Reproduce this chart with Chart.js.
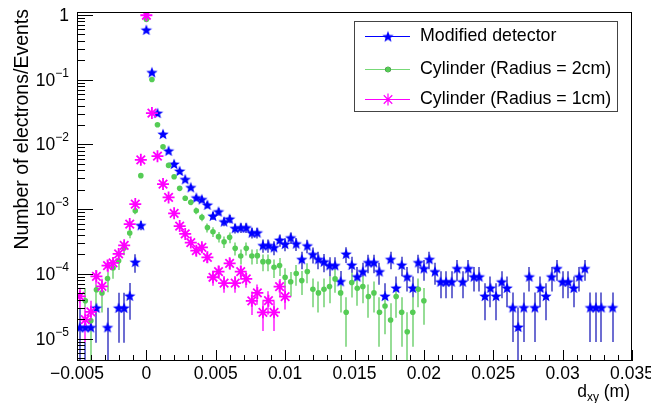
<!DOCTYPE html>
<html>
<head>
<meta charset="utf-8">
<script src="https://cdn.jsdelivr.net/npm/chart.js@4.4.0/dist/chart.umd.min.js"></script>
<style>
  html, body { margin: 0; padding: 0; background: #fff; }
  canvas { display: block; }
</style>
</head>
<body>
<canvas id="dxyChart" width="651" height="403"></canvas>
<script>
// histogram binning: 100 bins between -0.005 and 0.035 m
const binLow = -0.005;
const binHigh = 0.035;
const nBins = 100;
const binCenters = Array.from({length: nBins}, (_, i) => binLow + (i + 0.5) * (binHigh - binLow) / nBins);

const seriesLabels = ['Modified detector', 'Cylinder (Radius = 2cm)', 'Cylinder (Radius = 1cm)'];

// weight of one entry, gives the sqrt(N) error bars
const entryWeights = [1.52e-5, 1.28e-5, 6e-6];

const modifiedDetector = [
    1.5e-5, 1.5e-5, 1.5e-5, 3.0e-5, null, 1.5e-5, null, 3.0e-5, 3.0e-5, 4.6e-5,
    1.53e-4, 5.65e-4, 0.59, 0.130, 0.0306, 0.0145, 0.0080, 5.0e-3, 3.9e-3, 2.9e-3,
    2.18e-3, 1.51e-3, 1.42e-3, 1.17e-3, 7.9e-4, 9.2e-4, 6.45e-4, 7.1e-4, 5.1e-4, 5.2e-4,
    5.2e-4, 4.35e-4, 4.35e-4, 2.77e-4, 2.77e-4, 2.58e-4, 3.35e-4, 2.9e-4, 3.64e-4, 2.94e-4,
    1.69e-4, 2.74e-4, 2.01e-4, 1.69e-4, 1.55e-4, 1.36e-4, 1.36e-4, 7.7e-5, 2.04e-4, 1.38e-4,
    9.1e-5, 1.09e-4, 1.51e-4, 1.51e-4, 1.09e-4, 4.57e-5, 1.69e-4, 6.1e-5, 1.38e-4, 9.1e-5,
    6.1e-5, 1.51e-4, 1.22e-4, 1.69e-4, 1.09e-4, 7.6e-5, 7.6e-5, 7.6e-5, 1.22e-4, 7.6e-5,
    1.22e-4, 9.1e-5, 9.1e-5, 4.57e-5, 6.1e-5, 4.57e-5, 7.6e-5, 6.1e-5, 3.04e-5, 1.52e-5,
    3.04e-5, 9.1e-5, 3.04e-5, 6.1e-5, 4.57e-5, 9.1e-5, 1.22e-4, 7.6e-5, 7.6e-5, 6.1e-5,
    9.1e-5, 1.22e-4, 3.04e-5, 3.04e-5, 3.04e-5, null, 3.04e-5, null, null, null
];

const cylinder2cm = [
    null, 3.87e-5, 1.9e-5, 5.7e-5, 5.1e-5, 8.5e-5, 1.24e-4, 1.6e-4, 2.52e-4, 4.3e-4,
    9.5e-4, 3.3e-3, 0.85, 0.101, 0.0202, 9.2e-3, 4.75e-3, 3.18e-3, 2.1e-3, 1.48e-3,
    1.28e-3, 9.5e-4, 7.5e-4, 5.2e-4, 4.5e-4, 3.77e-4, 3.15e-4, 3.68e-4, 2.49e-4, 1.9e-4,
    2.49e-4, 1.9e-4, 1.92e-4, 1.55e-4, 1.55e-4, 1.27e-4, 1.35e-4, 8.9e-5, 7.6e-5, 1.02e-4,
    7.9e-5, 1.09e-4, 5.8e-5, 5.1e-5, 5.8e-5, 6.4e-5, 8.4e-5, 5.1e-5, 2.56e-5, 7.4e-5,
    6.0e-5, 6.4e-5, 4.5e-5, 5.1e-5, 2.56e-5, 3.2e-5, 1.95e-5, 4.5e-5, 2.56e-5, 1.28e-5,
    2.56e-5, 5.8e-5, 3.87e-5, null, null, null, null, null, null, null,
    null, null, null, null, null, null, null, null, null, null,
    null, null, null, null, null, null, null, null, null, null,
    null, null, null, null, null, null, null, null, null, null
];

const cylinder1cm = [
    4.5e-5, 1.97e-5, 2.6e-5, 9.2e-5, 6.45e-5, 1.35e-4, 1.48e-4, 2.04e-4, 2.77e-4, 5.9e-4,
    1.2e-3, 5.8e-3, 0.99, 0.0306, 6.6e-3, 2.45e-3, 1.52e-3, 8.65e-4, 5.5e-4, 4.15e-4,
    3.05e-4, 2.29e-4, 2.58e-4, 1.81e-4, 8.9e-5, 1.09e-4, 7.2e-5, 1.46e-4, 7.2e-5, 1.09e-4,
    8.4e-5, 3.85e-5, 5.1e-5, 2.56e-5, 3.87e-5, 2.56e-5, 6.4e-5, 4.46e-5, null, null,
    null, null, null, null, null, null, null, null, null, null,
    null, null, null, null, null, null, null, null, null, null,
    null, null, null, null, null, null, null, null, null, null,
    null, null, null, null, null, null, null, null, null, null,
    null, null, null, null, null, null, null, null, null, null,
    null, null, null, null, null, null, null, null, null, null
];

const xTickValues = [-0.005, 0, 0.005, 0.01, 0.015, 0.02, 0.025, 0.03, 0.035];
const xTickLabels = ['\u22120.005', '0', '0.005', '0.01', '0.015', '0.02', '0.025', '0.03', '0.035'];
const yTickValues = [1e-5, 1e-4, 1e-3, 1e-2, 1e-1, 1];
const yTickLabels = [['10', '\u22125'], ['10', '\u22124'], ['10', '\u22123'], ['10', '\u22122'], ['10', '\u22121'], ['1', '']];

const FONT = '"Liberation Sans", Arial, Helvetica, sans-serif';

function makeStar(color, outer, inner) {
    const c = document.createElement('canvas');
    const s = Math.ceil(outer * 2) + 2;
    c.width = s;
    c.height = s;
    const g = c.getContext('2d');
    g.fillStyle = color;
    g.beginPath();
    for (let k = 0; k < 10; k++) {
        const r = k % 2 === 0 ? outer : inner;
        const a = -Math.PI / 2 + k * Math.PI / 5;
        g.lineTo(s / 2 + r * Math.cos(a), s / 2 + r * Math.sin(a) + 0.5);
    }
    g.closePath();
    g.fill();
    return c;
}

function toPoints(values) {
    return values.map((v, i) => ({x: binCenters[i], y: v})).filter(p => p.y !== null);
}

// sqrt(N) error bars, drawn under the markers
const errorBars = {
    id: 'errorBars',
    beforeDatasetsDraw(chart) {
        const {ctx, chartArea, scales: {x, y}} = chart;
        ctx.save();
        ctx.beginPath();
        ctx.rect(chartArea.left, chartArea.top, chartArea.width, chartArea.height);
        ctx.clip();
        chart.data.datasets.forEach(ds => {
            ctx.strokeStyle = ds.errorColor;
            ctx.lineWidth = 2;
            ds.data.forEach(p => {
                const err = Math.sqrt(p.y * ds.entryWeight);
                const px = Math.round(x.getPixelForValue(p.x));
                const top = y.getPixelForValue(p.y + err);
                const lo = p.y - err;
                const bottom = lo > 1e-9 ? y.getPixelForValue(lo) : chartArea.bottom;
                ctx.beginPath();
                ctx.moveTo(px, top);
                ctx.lineTo(px, Math.min(bottom, chartArea.bottom));
                ctx.stroke();
            });
        });
        ctx.restore();
    }
};

// ROOT style frame, ticks, labels and legend box
const rootFrame = {
    id: 'rootFrame',
    afterDraw(chart) {
        const {ctx, chartArea: a, scales: {x, y}} = chart;
        ctx.save();
        ctx.strokeStyle = '#000';
        ctx.lineWidth = 1;
        ctx.strokeRect(a.left + 0.5, a.top + 0.5, a.width - 1, a.height - 1);

        // y ticks (inside)
        ctx.beginPath();
        for (let e = -6; e <= 0; e++) {
            for (let m = 1; m <= 9; m++) {
                const v = m * Math.pow(10, e);
                if (v < y.min || v > y.max) continue;
                const py = Math.round(y.getPixelForValue(v)) + 0.5;
                const len = m === 1 ? 16 : 8;
                ctx.moveTo(a.left, py);
                ctx.lineTo(a.left + len, py);
            }
        }
        // x ticks (inside)
        for (let k = 0; k <= 40; k++) {
            const v = binLow + k * 0.001;
            const px = Math.round(x.getPixelForValue(v)) + 0.5;
            const len = k % 5 === 0 ? 11 : 6;
            ctx.moveTo(px, a.bottom);
            ctx.lineTo(px, a.bottom - len);
        }
        ctx.stroke();

        // tick labels
        ctx.fillStyle = '#000';
        ctx.textBaseline = 'alphabetic';
        ctx.font = '17.5px ' + FONT;
        ctx.textAlign = 'center';
        xTickValues.forEach((v, i) => {
            ctx.fillText(xTickLabels[i], x.getPixelForValue(v), a.bottom + 18);
        });
        ctx.textAlign = 'left';
        const labelRight = a.left - 8;
        yTickValues.forEach((v, i) => {
            const py = y.getPixelForValue(v);
            const [base, exp] = yTickLabels[i];
            ctx.font = '12px ' + FONT;
            const ew = exp ? ctx.measureText(exp).width : 0;
            ctx.font = '17.5px ' + FONT;
            const bw = ctx.measureText(base).width;
            ctx.fillText(base, labelRight - ew - bw, py + 6);
            if (exp) {
                ctx.font = '12px ' + FONT;
                ctx.fillText(exp, labelRight - ew, py - 3);
            }
        });

        // axis titles
        ctx.font = '17.5px ' + FONT;
        const tail = ' (m)';
        const tw = ctx.measureText(tail).width;
        ctx.font = '12px ' + FONT;
        const sw = ctx.measureText('xy').width;
        ctx.font = '17.5px ' + FONT;
        const dw = ctx.measureText('d').width;
        const tx = a.right - 2 - tw - sw - dw;
        ctx.fillText('d', tx, 397);
        ctx.font = '12px ' + FONT;
        ctx.fillText('xy', tx + dw, 401);
        ctx.font = '17.5px ' + FONT;
        ctx.fillText(tail, tx + dw + sw, 397);

        ctx.save();
        ctx.translate(28, a.top - 3);
        ctx.rotate(-Math.PI / 2);
        ctx.textAlign = 'right';
        ctx.font = '19.5px ' + FONT;
        ctx.fillText('Number of electrons/Events', 0, 0);
        ctx.restore();

        // legend
        const box = {left: 354.5, top: 21.5, right: 617.5, bottom: 111.5};
        ctx.fillStyle = '#fff';
        ctx.fillRect(box.left, box.top, box.right - box.left, box.bottom - box.top);
        ctx.strokeStyle = '#444';
        ctx.strokeRect(box.left, box.top, box.right - box.left, box.bottom - box.top);
        const rows = [36, 69, 99];
        chart.data.datasets.forEach((ds, i) => {
            const ry = rows[i] + 0.5;
            ctx.strokeStyle = ds.legendLine;
            ctx.lineWidth = 1.2;
            ctx.beginPath();
            ctx.moveTo(365, ry);
            ctx.lineTo(410, ry);
            ctx.stroke();
            Chart.helpers.drawPoint(ctx, {
                pointStyle: ds.pointStyle,
                radius: ds.pointRadius,
                rotation: 0,
                borderWidth: ds.borderWidth
            }, 388, ry);
            if (typeof ds.pointStyle === 'string' && ds.pointStyle !== 'star') {
                ctx.fillStyle = ds.backgroundColor;
                ctx.beginPath();
                ctx.arc(388, ry, ds.pointRadius, 0, Math.PI * 2);
                ctx.fill();
            }
            ctx.fillStyle = '#000';
            ctx.font = '17.8px ' + FONT;
            ctx.textAlign = 'left';
            ctx.textBaseline = 'middle';
            ctx.fillText(ds.label, 420, ry);
        });
        ctx.restore();
    }
};

document.addEventListener('DOMContentLoaded', () => {
    const ctx = document.getElementById('dxyChart').getContext('2d');
    const blueStar = makeStar('#0000ff', 6, 2.6);

    new Chart(ctx, {
        type: 'scatter',
        data: {
            datasets: [
                {
                    label: seriesLabels[0],
                    data: toPoints(modifiedDetector),
                    pointStyle: blueStar,
                    pointRadius: 6,
                    borderWidth: 0,
                    backgroundColor: '#0000ff',
                    borderColor: '#0000ff',
                    errorColor: '#6d6dd2',
                    legendLine: '#0000ff',
                    entryWeight: entryWeights[0],
                    order: 2
                },
                {
                    label: seriesLabels[1],
                    data: toPoints(cylinder2cm),
                    pointStyle: 'circle',
                    pointRadius: 2.8,
                    borderWidth: 0,
                    backgroundColor: '#55cc55',
                    borderColor: '#55cc55',
                    errorColor: '#96dd96',
                    legendLine: '#77d977',
                    entryWeight: entryWeights[1],
                    order: 1
                },
                {
                    label: seriesLabels[2],
                    data: toPoints(cylinder1cm),
                    pointStyle: 'star',
                    pointRadius: 6,
                    borderWidth: 1.8,
                    backgroundColor: '#ff00ff',
                    borderColor: '#ff00ff',
                    errorColor: '#ff55ff',
                    legendLine: '#ff00ff',
                    entryWeight: entryWeights[2],
                    order: 0
                }
            ]
        },
        options: {
            responsive: false,
            animation: false,
            layout: {
                padding: {left: 77, top: 12, right: 19, bottom: 42}
            },
            scales: {
                x: {type: 'linear', min: binLow, max: binHigh, display: false},
                y: {type: 'logarithmic', min: 4.53e-6, max: 1.112, display: false}
            },
            plugins: {
                legend: {display: false},
                tooltip: {enabled: false}
            }
        },
        plugins: [errorBars, rootFrame]
    });
});
</script>
</body>
</html>
